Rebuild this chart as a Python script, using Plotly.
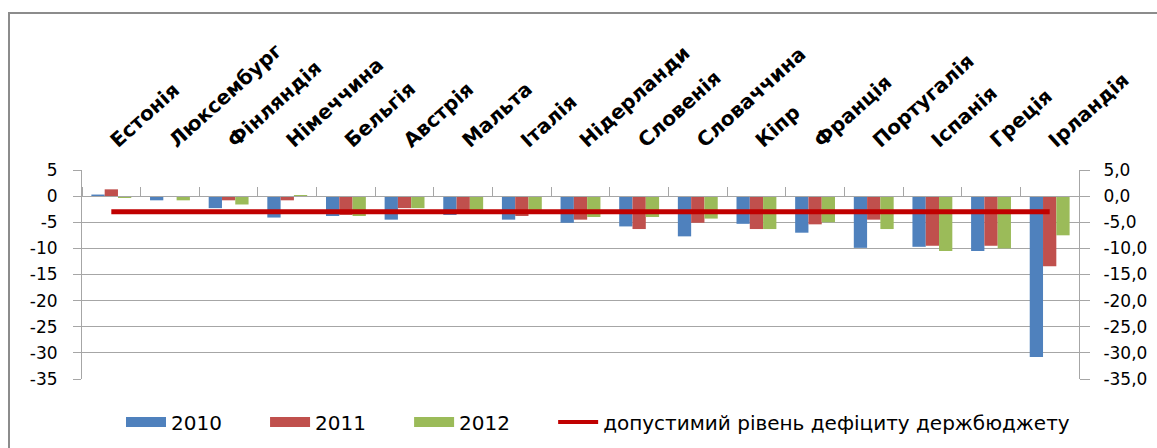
import plotly.graph_objects as go

countries = ["Естонія", "Люксембург", "Фінляндія", "Німеччина", "Бельгія", "Австрія",
             "Мальта", "Італія", "Нідерланди", "Словенія", "Словаччина", "Кіпр",
             "Франція", "Португалія", "Іспанія", "Греція", "Ірландія"]
v2010 = [0.3, -0.8, -2.3, -4.1, -3.8, -4.5, -3.6, -4.5, -5.1, -5.8, -7.7, -5.3, -7.0, -9.9, -9.7, -10.5, -30.8]
v2011 = [1.3, 0.0, -0.8, -0.8, -3.6, -2.3, -2.8, -3.8, -4.5, -6.3, -5.1, -6.3, -5.4, -4.5, -9.5, -9.5, -13.4]
v2012 = [-0.3, -0.8, -1.6, 0.2, -3.8, -2.3, -3.0, -3.0, -4.0, -4.0, -4.3, -6.3, -5.0, -6.3, -10.5, -10.0, -7.5]
limit = [-3.0] * len(countries)

series_names = ["2010", "2011", "2012"]
line_name = "допустимий рівень дефіциту держбюджету"

y_tickvals = [5, 0, -5, -10, -15, -20, -25, -30, -35]
y_left_text = ["5", "0", "-5", "-10", "-15", "-20", "-25", "-30", "-35"]
y_right_text = ["5,0", "0,0", "-5,0", "-10,0", "-15,0", "-20,0", "-25,0", "-30,0", "-35,0"]

colors = ["#4F81BD", "#C0504D", "#9BBB59"]
line_color = "#C00000"
FONT = "DejaVu Sans"
GRID = "#A6A6A6"
PAD = "\u00a0" * 6

fig = go.Figure()
for name, vals, col in zip(series_names, [v2010, v2011, v2012], colors):
    fig.add_trace(go.Bar(x=countries, y=vals, name=name, marker_color=col,
                         marker_line_width=0, showlegend=False,
                         xaxis="x", yaxis="y"))

fig.add_trace(go.Scatter(x=countries, y=limit, mode="lines", name=line_name,
                         line=dict(color=line_color, width=5), showlegend=False,
                         xaxis="x2", yaxis="y2"))

# legend entries (wide swatches like the original)
for name, col in zip(series_names, colors):
    fig.add_trace(go.Scatter(x=[None], y=[None], mode="lines", name=name + PAD,
                             line=dict(color=col, width=13), xaxis="x", yaxis="y"))
fig.add_trace(go.Scatter(x=[None], y=[None], mode="lines", name=line_name,
                         line=dict(color=line_color, width=4), xaxis="x", yaxis="y"))

W, H = 1157, 448
L, R, T, B = 82, 78, 170, 42
pw, ph = W - L - R, H - T - B
paper_bottom = H - B            # 406 px
axis_bottom = 379               # pixel of -35
axis_zero = 196                 # pixel of 0
dom0 = (paper_bottom - axis_bottom) / ph

def py(pix):
    return (paper_bottom - pix) / ph

fig.update_layout(
    width=W, height=H,
    margin=dict(l=L, r=R, t=T, b=B, pad=0, autoexpand=False),
    paper_bgcolor="white", plot_bgcolor="white",
    barmode="group", bargap=0.32, bargroupgap=0,
    font=dict(family=FONT, color="#000000", size=16),
    xaxis=dict(type="category", categoryorder="array", categoryarray=countries,
               range=[-0.5, len(countries) - 0.5],
               anchor="free", position=py(axis_zero), side="top",
               showline=True, linecolor=GRID, linewidth=1,
               ticks="outside", ticklen=9, tickcolor=GRID, tickwidth=1,
               tickson="boundaries", showticklabels=False, showgrid=False,
               zeroline=False, automargin=False),
    xaxis2=dict(type="category", categoryorder="array", categoryarray=countries,
                range=[-0.5, len(countries) - 0.5],
                overlaying="x", anchor="y2", side="top",
                showline=False, ticks="", showgrid=False, zeroline=False,
                tickangle=-42, ticklabelstandoff=14, automargin=False,
                tickfont=dict(family=FONT, size=20, color="#000000", weight="bold")),
    yaxis=dict(range=[-35, 5], domain=[dom0, 1], tickvals=y_tickvals, ticktext=y_left_text,
               showgrid=True, gridcolor=GRID, gridwidth=1,
               showline=True, linecolor=GRID, linewidth=1,
               ticks="outside", ticklen=8, tickcolor=GRID,
               ticklabelstandoff=12, zeroline=False, automargin=False,
               tickfont=dict(family=FONT, size=17, color="#000000")),
    yaxis2=dict(range=[-35, 5], domain=[dom0, 1], tickvals=y_tickvals, ticktext=y_right_text,
                overlaying="y", anchor="x2", side="right",
                showgrid=False, showline=True, linecolor=GRID, linewidth=1,
                ticks="outside", ticklen=10, tickcolor=GRID,
                ticklabelstandoff=10, zeroline=False, automargin=False,
                tickfont=dict(family=FONT, size=17, color="#000000")),
    legend=dict(orientation="h", x=(598 - L) / pw, xanchor="center", y=py(422), yanchor="middle",
                font=dict(family=FONT, size=20, color="#000000"),
                bgcolor="rgba(0,0,0,0)", itemwidth=40, tracegroupgap=0),
    showlegend=True,
)

# outer chart frame (clipped at right and bottom like the original)
fig.add_shape(type="rect", xref="paper", yref="paper",
              x0=(9 - L) / pw, x1=(W + 20 - L) / pw,
              y0=py(H + 20), y1=py(13),
              line=dict(color="#8C8C8C", width=2), fillcolor="rgba(0,0,0,0)", layer="below")

fig.write_html("out.html")
